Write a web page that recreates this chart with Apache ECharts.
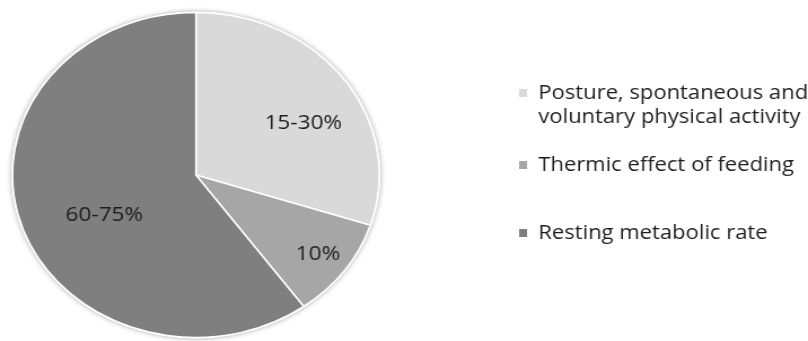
<!DOCTYPE html>
<html>
<head>
<meta charset="utf-8">
<script src="https://cdn.jsdelivr.net/npm/echarts@6/dist/echarts.min.js"></script>
<style>
  html, body { margin: 0; padding: 0; background: #fff; overflow: hidden; }
  /* the chart is drawn narrower and stretched horizontally (wide, elliptical pie) */
  #chart { width: 716px; height: 341px; transform: scaleX(1.1285); transform-origin: 0 0; }
</style>
</head>
<body>
<div id="chart"></div>
<script>
// Daily energy expenditure components
const categories = [
  'Posture, spontaneous and\nvoluntary physical activity',
  'Thermic effect of feeding',
  'Resting metabolic rate'
];
const shares = [30, 10, 60];
const shareLabels = ['15-30%', '10%', '60-75%'];
const colors = ['#d9d9d9', '#a6a6a6', '#7f7f7f'];

// label nudges away from the default mid-radius spot
const labelNudge = [[27, -2], [40, 30], [-1, 14]];
// vertical placement of each legend entry
const legendTops = [57, 153, 221];

const CENTER = [173.6, 175];
const RADIUS = 162.5;
const FONT = '"Open Sans", "Noto Sans", sans-serif';

const chart = echarts.init(document.getElementById('chart'), null, { renderer: 'canvas' });

// a leading empty line keeps the first text line level with the legend square
const legendText = (name) => (name.indexOf('\n') >= 0 ? ' \n' + name : name);

const legends = categories.map((name, i) => ({
  data: [name],
  orient: 'vertical',
  left: 458,
  top: legendTops[i],
  padding: 0,
  icon: 'rect',
  itemWidth: 9,
  itemHeight: 10,
  selectedMode: false,
  formatter: legendText,
  textStyle: {
    fontFamily: FONT,
    fontSize: 19.5,
    lineHeight: 24,
    color: '#1e1e1e',
    padding: [0, 0, 0, 4]
  }
}));

chart.setOption({
  animation: false,
  color: colors,
  legend: legends,
  series: [
    {
      // soft rim behind the slices
      type: 'pie',
      silent: true,
      center: CENTER,
      radius: RADIUS + 1,
      startAngle: 90,
      label: { show: false },
      labelLine: { show: false },
      itemStyle: {
        color: '#ffffff',
        shadowBlur: 5,
        shadowColor: 'rgba(0,0,0,0.35)'
      },
      data: [{ value: 1, name: '' }],
      legendHoverLink: false
    },
    {
      type: 'pie',
      center: CENTER,
      radius: RADIUS,
      startAngle: 90,
      clockwise: true,
      avoidLabelOverlap: false,
      itemStyle: { borderColor: '#ffffff', borderWidth: 1.5 },
      label: {
        show: true,
        position: 'inside',
        fontFamily: FONT,
        fontSize: 20,
        color: '#1e1e1e'
      },
      labelLine: { show: false },
      emphasis: { disabled: true },
      data: categories.map((name, i) => ({
        name: name,
        value: shares[i],
        itemStyle: { color: colors[i] },
        label: { formatter: shareLabels[i], offset: labelNudge[i] }
      }))
    }
  ]
});
</script>
</body>
</html>
